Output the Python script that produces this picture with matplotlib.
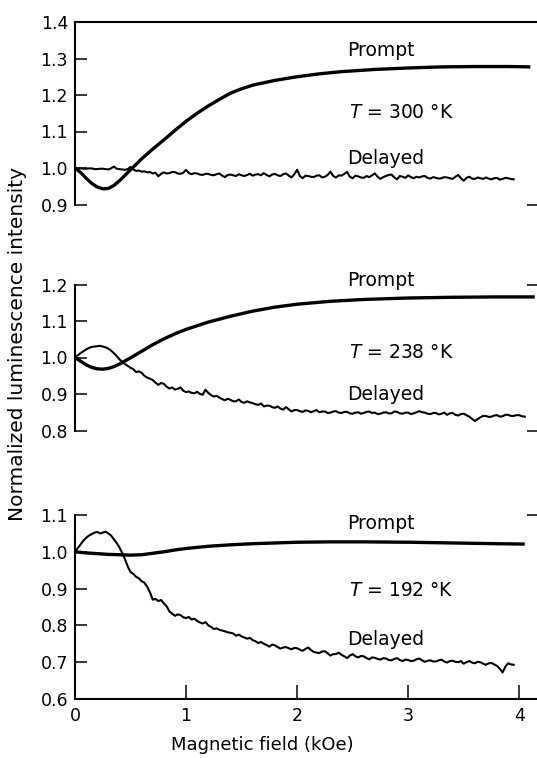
import numpy as np
import matplotlib
matplotlib.use("Agg")
import matplotlib.pyplot as plt

#------------------------ magnetic field effect on luminescence ---------------
# delayed traces are read off every 0.025 kOe
fieldStep = 0.025

# T = 300 K
prompt300_x = [0.0, 0.05, 0.1, 0.15, 0.2, 0.25, 0.3, 0.35, 0.4, 0.5, 0.6, 0.7, 0.8, 0.9,
               1.0, 1.1, 1.2, 1.3, 1.4, 1.5, 1.6, 1.8, 2.0, 2.2, 2.4, 2.7, 3.0, 3.3, 3.6, 3.9, 4.1]
prompt300_y = [1.0, 0.988, 0.972, 0.958, 0.948, 0.943, 0.944, 0.952, 0.965, 0.995, 1.025, 1.052,
               1.077, 1.103, 1.128, 1.150, 1.170, 1.188, 1.205, 1.217, 1.227, 1.240, 1.250, 1.258,
               1.264, 1.270, 1.274, 1.277, 1.278, 1.278, 1.277]
delayed300_y = [1.000, 0.999, 0.999, 0.998, 0.998, 0.999, 0.999, 0.997, 0.997, 0.998,
                0.998, 0.997, 0.996, 0.999, 1.004, 0.998, 0.997, 0.996, 0.995, 0.997,
                1.003, 0.996, 0.992, 0.993, 0.990, 0.991, 0.988, 0.989, 0.985, 0.987,
                0.977, 0.984, 0.988, 0.985, 0.986, 0.989, 0.989, 0.985, 0.984, 0.987,
                0.995, 0.986, 0.983, 0.986, 0.985, 0.982, 0.981, 0.984, 0.984, 0.981,
                0.980, 0.983, 0.985, 0.979, 0.975, 0.981, 0.982, 0.980, 0.978, 0.983,
                0.980, 0.978, 0.981, 0.984, 0.979, 0.982, 0.983, 0.980, 0.986, 0.981,
                0.977, 0.982, 0.984, 0.980, 0.978, 0.983, 0.985, 0.979, 0.974, 0.983,
                0.995, 0.978, 0.972, 0.979, 0.978, 0.976, 0.975, 0.979, 0.980, 0.974,
                0.976, 0.981, 0.990, 0.978, 0.974, 0.980, 0.979, 0.984, 0.989, 0.976,
                0.972, 0.979, 0.977, 0.974, 0.973, 0.978, 0.975, 0.980, 0.985, 0.976,
                0.970, 0.975, 0.978, 0.981, 0.982, 0.974, 0.969, 0.978, 0.976, 0.973,
                0.980, 0.975, 0.972, 0.976, 0.974, 0.977, 0.978, 0.973, 0.971, 0.975,
                0.973, 0.971, 0.972, 0.975, 0.974, 0.972, 0.970, 0.976, 0.981, 0.972,
                0.965, 0.973, 0.976, 0.971, 0.970, 0.974, 0.972, 0.970, 0.974, 0.971,
                0.969, 0.972, 0.973, 0.968, 0.970, 0.973, 0.972, 0.970, 0.969]

# T = 238 K
prompt238_x = [0.0, 0.05, 0.1, 0.15, 0.2, 0.25, 0.3, 0.35, 0.4, 0.5, 0.6, 0.7, 0.8, 0.9,
               1.0, 1.2, 1.4, 1.6, 1.8, 2.0, 2.3, 2.6, 3.0, 3.4, 3.8, 4.14]
prompt238_y = [1.0, 0.990, 0.980, 0.973, 0.969, 0.968, 0.970, 0.975, 0.982, 0.999, 1.017, 1.035,
               1.051, 1.065, 1.077, 1.097, 1.113, 1.127, 1.138, 1.146, 1.154, 1.159, 1.163,
               1.165, 1.166, 1.166]
delayed238_y = [1.000, 1.006, 1.012, 1.017, 1.022, 1.026, 1.029, 1.030, 1.031, 1.032,
                1.030, 1.028, 1.024, 1.019, 1.012, 1.004, 0.995, 0.988, 0.982, 0.977,
                0.972, 0.968, 0.960, 0.962, 0.958, 0.950, 0.945, 0.942, 0.938, 0.931,
                0.925, 0.930, 0.928, 0.920, 0.915, 0.918, 0.912, 0.914, 0.918, 0.909,
                0.905, 0.907, 0.903, 0.902, 0.906, 0.900, 0.898, 0.912, 0.903, 0.897,
                0.893, 0.895, 0.890, 0.886, 0.883, 0.887, 0.884, 0.880, 0.880, 0.885,
                0.878, 0.876, 0.880, 0.877, 0.875, 0.872, 0.870, 0.874, 0.866, 0.868,
                0.868, 0.864, 0.862, 0.866, 0.860, 0.857, 0.864, 0.858, 0.852, 0.856,
                0.856, 0.853, 0.851, 0.855, 0.854, 0.850, 0.853, 0.856, 0.850, 0.852,
                0.852, 0.848, 0.849, 0.852, 0.853, 0.849, 0.848, 0.851, 0.851, 0.847,
                0.846, 0.849, 0.850, 0.846, 0.848, 0.851, 0.852, 0.848, 0.849, 0.845,
                0.846, 0.849, 0.850, 0.847, 0.847, 0.852, 0.851, 0.847, 0.846, 0.849,
                0.849, 0.845, 0.847, 0.850, 0.853, 0.850, 0.849, 0.846, 0.845, 0.848,
                0.848, 0.844, 0.846, 0.849, 0.843, 0.847, 0.848, 0.843, 0.841, 0.845,
                0.846, 0.842, 0.838, 0.832, 0.826, 0.831, 0.836, 0.840, 0.840, 0.837,
                0.838, 0.841, 0.842, 0.838, 0.839, 0.843, 0.843, 0.840, 0.840, 0.842,
                0.842, 0.839, 0.838]

# T = 192 K
prompt192_x = [0.0, 0.1, 0.2, 0.3, 0.4, 0.5, 0.6, 0.7, 0.8, 0.9, 1.0, 1.2, 1.4, 1.6, 1.8,
               2.0, 2.3, 2.6, 3.0, 3.4, 3.8, 4.05]
prompt192_y = [1.0, 0.997, 0.995, 0.993, 0.992, 0.991, 0.992, 0.996, 1.000, 1.005, 1.009,
               1.015, 1.019, 1.022, 1.024, 1.026, 1.027, 1.027, 1.026, 1.024, 1.022, 1.021]
delayed192_y = [1.000, 1.010, 1.020, 1.030, 1.038, 1.044, 1.048, 1.052, 1.054, 1.050,
                1.052, 1.055, 1.050, 1.044, 1.034, 1.024, 1.012, 0.997, 0.980, 0.960,
                0.945, 0.940, 0.932, 0.928, 0.920, 0.916, 0.905, 0.890, 0.870, 0.872,
                0.866, 0.869, 0.860, 0.852, 0.838, 0.832, 0.826, 0.830, 0.828, 0.822,
                0.820, 0.823, 0.816, 0.818, 0.812, 0.808, 0.805, 0.809, 0.800, 0.796,
                0.790, 0.792, 0.788, 0.786, 0.784, 0.781, 0.780, 0.778, 0.772, 0.775,
                0.770, 0.767, 0.764, 0.766, 0.760, 0.757, 0.752, 0.755, 0.750, 0.747,
                0.742, 0.748, 0.746, 0.741, 0.737, 0.740, 0.741, 0.738, 0.735, 0.739,
                0.738, 0.734, 0.731, 0.736, 0.740, 0.733, 0.728, 0.726, 0.725, 0.729,
                0.730, 0.724, 0.718, 0.722, 0.722, 0.726, 0.720, 0.716, 0.711, 0.718,
                0.722, 0.716, 0.713, 0.717, 0.716, 0.711, 0.708, 0.713, 0.712, 0.709,
                0.707, 0.711, 0.710, 0.706, 0.705, 0.709, 0.711, 0.706, 0.703, 0.707,
                0.706, 0.703, 0.704, 0.708, 0.710, 0.705, 0.701, 0.704, 0.705, 0.702,
                0.702, 0.705, 0.707, 0.702, 0.699, 0.703, 0.704, 0.701, 0.700, 0.703,
                0.696, 0.700, 0.703, 0.699, 0.697, 0.701, 0.700, 0.696, 0.693, 0.697,
                0.698, 0.694, 0.690, 0.682, 0.672, 0.688, 0.697, 0.694, 0.693]

xTicks = [0, 1, 2, 3, 4]
xMax = 4.16


def fieldAxis(values):
    # the delayed traces were sampled on an even field grid
    return np.arange(len(values)) * fieldStep


def setupPanel(ax, ylims, rightTicks, showTop=False, showBottom=False):
    ax.set_xlim(0, xMax)
    ax.set_ylim(*ylims)
    yticks = np.round(np.arange(ylims[0], ylims[1] + 0.001, 0.1), 1)
    ax.set_yticks(yticks)
    ax.set_yticklabels(["%.1f" % t for t in yticks])
    ax.spines['right'].set_visible(False)
    ax.spines['top'].set_visible(showTop)
    ax.spines['bottom'].set_visible(showBottom)
    for s in ax.spines.values():
        s.set_linewidth(1.5)
    ax.tick_params(axis='y', direction='in', length=8.5, width=1.1, pad=5, labelsize=12.5)
    if showBottom:
        ax.set_xticks(xTicks)
        ax.set_xticklabels([str(t) for t in xTicks])
        ax.tick_params(axis='x', direction='in', length=10, width=1.1, pad=6, labelsize=12.5)
    else:
        ax.set_xticks([])

    # small marks on the right hand side
    rightAx = ax.secondary_yaxis('right')
    rightAx.set_yticks(rightTicks)
    rightAx.tick_params(direction='in', length=7, width=1.1, labelright=False)
    rightAx.spines['right'].set_visible(False)


def drawPanel(ax, promptX, promptY, delayedY, labelY, tempText):
    ax.plot(promptX, promptY, color='black', linewidth=2.4, solid_capstyle='butt')
    ax.plot(fieldAxis(delayedY), delayedY, color='black', linewidth=1.5)
    ax.text(2.45, labelY[0], "Prompt", fontsize=13.5, va='center', ha='left')
    ax.text(2.47, labelY[1], tempText, fontsize=13.5, va='center', ha='left')
    ax.text(2.45, labelY[2], "Delayed", fontsize=13.5, va='center', ha='left')


def main():
    fig = plt.figure(figsize=(5.37, 7.58), dpi=100)

    left = 75 / 537
    width = 1 - left
    # panels placed from pixel positions of the original
    axTop = fig.add_axes([left, 1 - 204.5 / 758, width, (204.5 - 22) / 758])
    axMid = fig.add_axes([left, 1 - 430.5 / 758, width, (430.5 - 284.5) / 758])
    axBot = fig.add_axes([left, 1 - 699 / 758, width, (699 - 515) / 758])

    setupPanel(axTop, (0.9, 1.4), [0.9], showTop=True)
    setupPanel(axMid, (0.8, 1.2), [0.8, 1.2])
    setupPanel(axBot, (0.6, 1.1), [1.1], showBottom=True)

    drawPanel(axTop, prompt300_x, prompt300_y, delayed300_y, (1.321, 1.151, 1.027),
              r"$\mathit{T}$ = 300 °K")
    drawPanel(axMid, prompt238_x, prompt238_y, delayed238_y, (1.211, 1.014, 0.900),
              r"$\mathit{T}$ = 238 °K")
    drawPanel(axBot, prompt192_x, prompt192_y, delayed192_y, (1.077, 0.894, 0.761),
              r"$\mathit{T}$ = 192 °K")

    fig.text(262 / 537, 1 - 745 / 758, "Magnetic field (kOe)", fontsize=13,
             ha='center', va='center')
    fig.text(18 / 537, 1 - 344 / 758, "Normalized luminescence intensity", fontsize=14.5,
             ha='center', va='center', rotation=90)

    fig.savefig("out.png", dpi=100)


main()
